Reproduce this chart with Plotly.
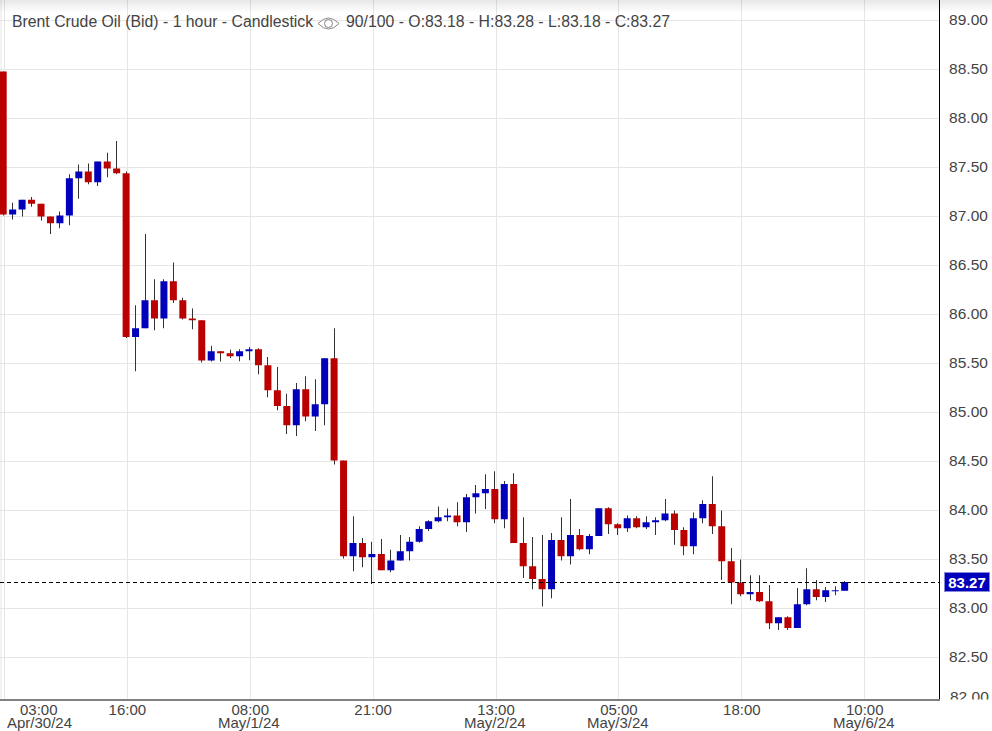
import plotly.graph_objects as go

opens = [88.48,87.02,87.07,87.17,87.13,87.00,86.93,87.01,87.39,87.46,87.35,87.56,87.49,87.44,85.77,85.86,86.146,85.96,86.34,86.146,85.96,85.94,85.53,85.626,85.605,85.575,85.626,85.646,85.483,85.228,85.065,84.87,85.238,84.96,85.085,85.554,84.51,83.534,83.667,83.524,83.555,83.39,83.49,83.585,83.68,83.81,83.89,83.93,83.95,83.88,84.136,84.177,84.218,83.91,84.27,83.667,83.43,83.30,83.197,83.70,83.534,83.75,83.605,83.74,84.024,83.86,83.82,83.92,83.83,83.88,83.90,83.97,83.80,83.636,83.92,84.065,83.84,83.483,83.265,83.146,83.167,83.075,82.85,82.91,82.80,83.044,83.197,83.116,83.177,83.18]
highs = [88.48,87.14,87.17,87.20,87.13,87.00,87.05,87.43,87.53,87.54,87.56,87.65,87.77,87.46,86.095,86.82,86.36,86.36,86.53,86.17,86.06,85.94,85.68,85.626,85.64,85.646,85.667,85.656,85.565,85.463,85.19,85.30,85.37,85.34,85.554,85.86,84.51,83.94,83.72,83.68,83.71,83.60,83.75,83.73,83.84,83.90,84.04,84.02,84.085,84.167,84.26,84.37,84.40,84.30,84.38,83.93,83.73,83.75,83.77,83.93,84.116,83.81,83.76,84.024,84.034,83.87,83.95,83.94,83.94,83.93,84.116,84.0,83.83,83.98,84.105,84.35,84.0,83.616,83.50,83.34,83.34,83.24,82.91,82.92,83.21,83.41,83.29,83.218,83.228,83.28]
lows = [87.01,86.97,87.00,87.10,86.96,86.82,86.88,86.91,87.18,87.33,87.31,87.40,87.43,85.76,85.42,85.86,85.84,85.86,86.116,85.95,85.85,85.51,85.52,85.52,85.555,85.524,85.534,85.39,85.156,85.024,84.78,84.76,84.91,84.81,84.87,84.47,83.51,83.38,83.42,83.25,83.39,83.37,83.49,83.49,83.67,83.79,83.88,83.89,83.84,83.78,83.97,84.014,83.87,83.82,83.667,83.31,83.197,83.02,83.105,83.49,83.45,83.595,83.554,83.74,83.76,83.75,83.78,83.82,83.81,83.75,83.89,83.65,83.544,83.554,83.87,83.76,83.29,83.044,83.126,83.085,83.065,82.79,82.78,82.78,82.80,83.034,83.085,83.065,83.136,83.18]
closes = [87.02,87.07,87.17,87.13,87.00,86.93,87.01,87.39,87.46,87.35,87.56,87.49,87.44,85.77,85.86,86.146,85.96,86.34,86.146,85.96,85.94,85.53,85.626,85.605,85.575,85.626,85.646,85.483,85.228,85.065,84.87,85.238,84.96,85.085,85.554,84.51,83.534,83.667,83.524,83.555,83.39,83.49,83.585,83.68,83.81,83.89,83.93,83.95,83.88,84.136,84.177,84.218,83.91,84.27,83.667,83.43,83.30,83.197,83.70,83.534,83.75,83.605,83.74,84.024,83.86,83.82,83.92,83.83,83.88,83.90,83.97,83.80,83.636,83.92,84.065,83.84,83.483,83.265,83.146,83.167,83.075,82.85,82.91,82.80,83.044,83.197,83.116,83.187,83.187,83.27]
bar_index = list(range(len(closes)))

y_ticks = [82.5,83.0,83.5,84.0,84.5,85.0,85.5,86.0,86.5,87.0,87.5,88.0,88.5,89.0]
x_tick_pos = [0,13,26,39,52,65,78,91]
x_tick_time = ["03:00","16:00","08:00","21:00","13:00","05:00","18:00","10:00"]
date_pos = [26,52,65,91]
date_text = ["May/1/24","May/2/24","May/3/24","May/6/24"]
title_text = "Brent Crude Oil (Bid) - 1 hour - Candlestick"
info_text = "90/100 - O:83.18 - H:83.28 - L:83.18 - C:83.27"

RED = "#BB0000"
BLUE = "#0000BB"
WICK = "#333333"
TXT = "#444444"
FONT = "Liberation Sans, Arial, sans-serif"
W, H = 992, 731
PW, PH = 939, 699
GRID_NUDGE = 0.127  # gridlines sit about a pixel right of their bar


def px(x):
    return x / PW


def py(y):
    return 1 - y / PH


fig = go.Figure()
# wicks: hairline bars that expand to one whole pixel
fig.add_trace(go.Bar(
    x=bar_index, y=[h - l for h, l in zip(highs, lows)], base=lows, width=0.002,
    marker=dict(color=WICK, line=dict(width=0)), hoverinfo="skip", showlegend=False,
))
# bodies
body_hi = [max(o, c) for o, c in zip(opens, closes)]
body_lo = [min(o, c) for o, c in zip(opens, closes)]
fig.add_trace(go.Candlestick(
    x=bar_index, open=opens, high=body_hi, low=body_lo, close=closes,
    increasing=dict(line=dict(color=BLUE, width=0), fillcolor=BLUE),
    decreasing=dict(line=dict(color=RED, width=0), fillcolor=RED),
    whiskerwidth=0, hoverinfo="skip", showlegend=False,
))

last = closes[-1]
shapes = [
    dict(type="line", xref="paper", x0=0, x1=1, yref="y", y0=last - 0.005, y1=last - 0.005,
         line=dict(color="#000000", width=1, dash="4px,3px"), layer="above"),
    dict(type="line", xref="paper", x0=px(1), x1=px(1), yref="paper", y0=0, y1=1,
         line=dict(color="#e6e6e6", width=1), layer="below"),
    # eye icon
    dict(type="path", xref="paper", yref="paper",
         path=f"M {px(318)} {py(23.5)} Q {px(328.5)} {py(12.5)} {px(339)} {py(23.5)} Q {px(328.5)} {py(34.5)} {px(318)} {py(23.5)} Z",
         line=dict(color="#8a8a8a", width=1), layer="above"),
    dict(type="circle", xref="paper", yref="paper",
         x0=px(324.5), x1=px(332.5), y0=py(27.5), y1=py(19.5),
         line=dict(color="#8a8a8a", width=1), layer="above"),
]
# soft grey fade along the top edge
for row in range(12):
    shapes.append(dict(type="rect", xref="paper", yref="paper",
                       x0=0, x1=px(W), y0=py(row + 1), y1=py(row), line=dict(width=0),
                       fillcolor=f"rgba(0,0,0,{0.09 * (12 - row) / 12:.4f})", layer="above"))

ann = [
    dict(xref="paper", yref="paper", x=px(10), y=py(21), text=title_text, showarrow=False,
         xanchor="left", yanchor="middle", font=dict(family=FONT, size=15.8, color=TXT)),
    dict(xref="paper", yref="paper", x=px(343.5), y=py(21), text=info_text, showarrow=False,
         xanchor="left", yanchor="middle", font=dict(family=FONT, size=15.8, color=TXT)),
    # first x label is pushed inwards to stay on the page
    dict(xref="paper", yref="paper", x=px(39), y=py(709.5), text=x_tick_time[0], showarrow=False,
         xanchor="center", yanchor="middle", font=dict(family=FONT, size=15, color=TXT)),
    dict(xref="paper", yref="paper", x=px(39), y=py(722.5), text="Apr/30/24", showarrow=False,
         xanchor="center", yanchor="middle", font=dict(family=FONT, size=15, color=TXT)),
    # lowest price label, clipped by the bottom of the axis
    dict(xref="paper", yref="paper", x=px(969.5), y=py(696.5), text="82.00", showarrow=False,
         xanchor="center", yanchor="middle", font=dict(family=FONT, size=15.5, color=TXT)),
    dict(xref="paper", yref="paper", x=px(945), y=py(699), text="&nbsp;", showarrow=False,
         xanchor="left", yanchor="top", width=47, height=20, bgcolor="#ffffff", borderpad=0),
    dict(xref="paper", yref="y", x=px(967), y=last, text=f"<b>{last:.2f}</b>", showarrow=False,
         xanchor="center", yanchor="middle", width=44, height=18, bgcolor=BLUE,
         bordercolor="#8888dd", borderwidth=1, borderpad=0,
         font=dict(family=FONT, size=15, color="#ffffff")),
]
for p, t in zip(date_pos, date_text):
    ann.append(dict(xref="x", yref="paper", x=p, y=py(722.5), text=t, showarrow=False,
                    xanchor="center", yanchor="middle", font=dict(family=FONT, size=15, color=TXT)))

fig.update_layout(
    width=W, height=H, autosize=False,
    margin=dict(l=0, r=W - PW, t=0, b=H - PH, pad=0),
    paper_bgcolor="#ffffff", plot_bgcolor="#ffffff",
    showlegend=False, barmode="overlay", boxmode="overlay", boxgap=0.26, boxgroupgap=0,
    shapes=shapes, annotations=ann,
    xaxis=dict(
        range=[-0.338, 98.98], rangeslider=dict(visible=False),
        tickmode="array", tickvals=[p + GRID_NUDGE for p in x_tick_pos],
        ticktext=[""] + x_tick_time[1:],
        showgrid=True, gridcolor="#e6e6e6", gridwidth=1, zeroline=False,
        showline=True, linecolor="#808080", linewidth=2,
        ticks="outside", ticklen=1, tickcolor="rgba(0,0,0,0)", ticklabelstandoff=-5,
        tickfont=dict(family=FONT, size=15, color=TXT), fixedrange=True,
    ),
    yaxis=dict(
        side="right", range=[82.0764, 89.209],
        tickmode="array", tickvals=y_ticks, ticktext=[f"{v:.2f}" for v in y_ticks],
        showgrid=True, gridcolor="#e6e6e6", gridwidth=1, zeroline=False,
        showline=True, linecolor="#000000", linewidth=1,
        ticks="outside", ticklen=6, tickcolor="rgba(0,0,0,0)", ticklabelshift=-1,
        tickfont=dict(family=FONT, size=15.5, color=TXT), fixedrange=True,
    ),
)

fig.write_html("out.html", config=dict(displayModeBar=False),
               post_script="document.body.style.margin='0';")
